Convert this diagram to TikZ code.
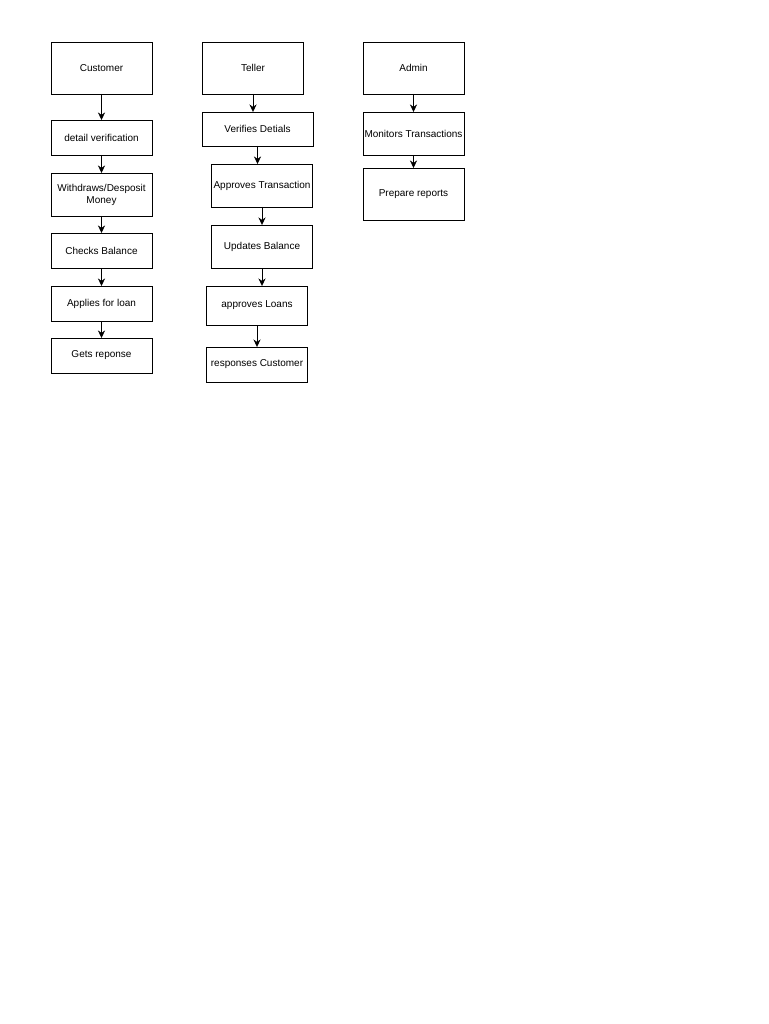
\documentclass[tikz,border=0pt]{standalone}
\usepackage{fontspec}
\setmainfont{Liberation Sans}
\usetikzlibrary{positioning, arrows.meta}

\begin{document}
\begin{tikzpicture}[x=1pt, y=-1pt, node distance=18pt, >={Stealth[length=7.5pt,width=7pt]},
    head/.style = {draw, line width=0.8pt, minimum width=101pt, minimum height=52pt, inner sep=0pt, outer sep=0pt, font=\fontsize{10}{12}\selectfont},
    act/.style = {head, minimum height=35pt, align=center},
    tall/.style = {act, minimum height=43pt}]
    \useasboundingbox (0,0) rectangle (768,1024);
    % customer
    \node[head] (cust) at (101.5,68) {Customer};
    \node[act] (c2) [below=26pt of cust] {detail verification};
    \node[tall] (c3) [below=of c2] {Withdraws/Desposit\\Money};
    \node[act] (c4) [below=17pt of c3] {Checks Balance};
    \node[act] (c5) [below=of c4] {Applies for loan};
    \node[act] (c6) [below=17pt of c5] {Gets reponse};
    % teller
    \node[head] (tel) at (253,68) {Teller};
    \node[act, minimum width=111pt, minimum height=34pt] (t2) [below=of tel, xshift=4.5pt] {Verifies Detials};
    \node[tall] (t3) [below=of t2, xshift=4.5pt] {Approves Transaction};
    \node[tall] (t4) [below=of t3] {Updates Balance};
    \node[act, minimum height=39pt] (t5) [below=of t4, xshift=-5pt] {approves Loans};
    \node[act] (t6) [below=22pt of t5] {responses Customer};
    % admin
    \node[head] (adm) at (413.5,68) {Admin};
    \node[tall] (a2) [below=of adm] {Monitors Transactions};
    \node[head] (a3) [below=13pt of a2] {Prepare reports};

    \draw[->] (cust) -- (c2);
    \draw[->] (c2) -- (c3);
    \draw[->] (c3) -- (c4);
    \draw[->] (c4) -- (c5);
    \draw[->] (c5) -- (c6);
    \draw[->] (tel.south) -- (tel.south |- t2.north);
    \draw[->] (t2.south) -- (t2.south |- t3.north);
    \draw[->] (t3) -- (t4);
    \draw[->] (t4.south) -- (t4.south |- t5.north);
    \draw[->] (t5) -- (t6);
    \draw[->] (adm) -- (a2);
    \draw[->] (a2) -- (a3);
\end{tikzpicture}
\end{document}
